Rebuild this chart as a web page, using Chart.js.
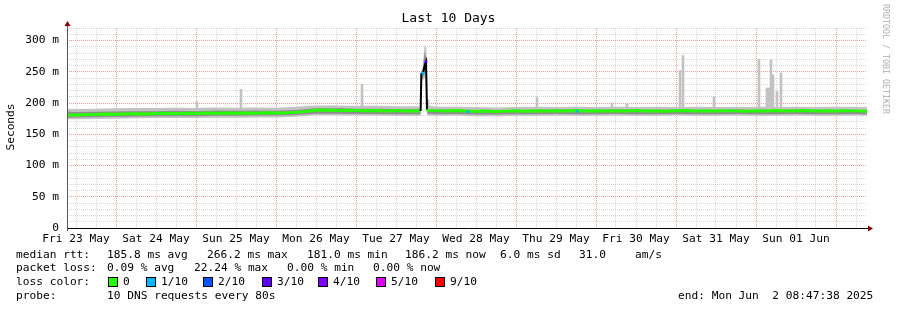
<!DOCTYPE html>
<html>
<head>
<meta charset="utf-8">
<title>Last 10 Days</title>
<script src="https://cdn.jsdelivr.net/npm/chart.js@4.4.0/dist/chart.umd.min.js"></script>
<style>
  html, body { margin: 0; padding: 0; background: #fff; }
  #wrap { position: relative; width: 897px; height: 310px; font-family: "DejaVu Sans Mono", monospace; font-size: 11.2px; color: #000; }
  #wrap canvas { position: absolute; left: 0; top: 0; }
  .t { position: absolute; white-space: pre; line-height: 13px; }
  .box { position: absolute; width: 8px; height: 8px; border: 1px solid #000; }
</style>
</head>
<body>
<div id="wrap">
  <canvas id="smoke" width="897" height="310"></canvas>
  <div class="t" style="left:0;width:897px;top:11px;text-align:center;font-size:13px;">Last 10 Days</div>
  <div class="t" style="left:-14px;top:120px;width:50px;height:14px;line-height:14px;text-align:center;color:#000;transform:rotate(-90deg);">Seconds</div>
  <div class="t" style="left:831px;top:54px;width:110px;height:10px;text-align:center;transform:rotate(90deg);font-size:8.3px;line-height:10px;color:#b0b0b0;">RRDTOOL / TOBI OETIKER</div>

  <div class="t" style="left:16px;top:248px;">median rtt:</div>
  <div class="t" style="left:107px;top:248px;">185.8 ms avg</div>
  <div class="t" style="left:207px;top:248px;">266.2 ms max</div>
  <div class="t" style="left:307px;top:248px;">181.0 ms min</div>
  <div class="t" style="left:405px;top:248px;">186.2 ms now</div>
  <div class="t" style="left:500px;top:248px;">6.0 ms sd</div>
  <div class="t" style="left:579px;top:248px;">31.0</div>
  <div class="t" style="left:635px;top:248px;">am/s</div>

  <div class="t" style="left:16px;top:261px;">packet loss:</div>
  <div class="t" style="left:107px;top:261px;">0.09 % avg</div>
  <div class="t" style="left:194px;top:261px;">22.24 % max</div>
  <div class="t" style="left:287px;top:261px;">0.00 % min</div>
  <div class="t" style="left:373px;top:261px;">0.00 % now</div>

  <div class="t" style="left:16px;top:275px;">loss color:</div>
  <div id="losslegend"></div>

  <div class="t" style="left:16px;top:289px;">probe:</div>
  <div class="t" style="left:107px;top:289px;">10 DNS requests every 80s</div>
  <div class="t" style="left:678px;top:289px;">end: Mon Jun  2 08:47:38 2025</div>
</div>
<script>
// x values are hours counted from Fri 23 May 00:00
const dayLabels = ["Fri 23 May", "Sat 24 May", "Sun 25 May", "Mon 26 May", "Tue 27 May",
  "Wed 28 May", "Thu 29 May", "Fri 30 May", "Sat 31 May", "Sun 01 Jun"];

const medianHours = [9.3, 12, 15, 18, 21, 24, 27, 30, 33, 36, 39, 42, 45, 48, 51, 54, 57, 60, 63, 66,
  69, 72, 75, 78, 81, 84, 87, 90, 93, 96, 99, 102, 105, 108, 111, 114,
  115.4, 115.6, 116.1, 116.7, 117.0, 117.3, 117.6,
  120, 123, 126, 129, 132, 135, 138, 141, 144, 147, 150, 153, 156, 159, 162, 165, 168, 171,
  174, 177, 180, 183, 186, 189, 192, 195, 198, 201, 204, 207, 210, 213, 216, 219, 222, 225,
  228, 231, 234, 237, 240, 243, 246, 249.3];
const medianRtt = [181.0, 181.0, 181.4, 181.8, 182.4, 182.1, 182.6, 182.9, 182.5, 183.1, 183.4, 183.0, 183.6, 183.3, 183.8, 183.5, 184.0, 183.7, 184.1, 183.8,
  184.3, 183.9, 184.2, 185.0, 186.6, 188.3, 188.6, 188.1, 188.5, 188.0, 187.6, 188.1, 187.4, 187.8, 187.2, 187.6,
  187.3, 246.5, 247.5, 262.0, 266.2, 189.5, 188.2,
  187.8, 187.4, 187.9, 187.1, 186.8, 187.3, 186.6, 187.0, 187.4, 186.9, 187.5, 187.1, 187.6, 187.2, 187.8, 187.3, 187.6, 187.1,
  187.7, 187.4, 187.9, 187.3, 187.6, 187.0, 187.5, 187.8, 187.2, 187.6, 187.1, 187.7, 187.4, 187.0, 187.6, 187.3, 187.8, 187.2,
  187.5, 187.9, 187.4, 187.7, 187.2, 187.6, 187.4, 186.8];

const smokeHours = [9.3, 12, 18, 24, 30, 36, 42, 48, 54, 60, 66, 72, 78, 84, 90, 96, 102, 108, 114, 115.4,
  115.6, 116.0, 116.6, 117.1, 117.4,
  120, 126, 132, 138, 144, 150, 156, 162, 168, 174, 180, 186, 192, 198, 204, 210, 216, 222, 228, 234, 240, 246, 249.3];
const smokeOuterHi = [191, 190.5, 191, 191.5, 192, 192, 192.5, 192, 193, 192.5, 193, 192.5, 194, 196, 196, 195.5, 195.5, 195, 195, 194.5,
  252, 258, 293, 288, 196,
  194, 194, 193.5, 193, 193.5, 194, 193.5, 194, 193.5, 194, 193.5, 194, 193.5, 194, 193.5, 193.5, 194, 193.5, 194, 193.5, 194, 193.5, 193.5];
const smokeOuterLo = [174, 174, 174.5, 175, 175.5, 176, 176, 176, 176.5, 176.5, 177, 177, 178, 180.5, 180.5, 180, 180, 179.5, 179.5, 179.5,
  238, 236, 240, 246, 180,
  179.5, 180, 179, 179, 179.5, 179.5, 180, 179.5, 179.5, 180, 179.5, 179.5, 180, 179.5, 179.5, 180, 179.5, 179.5, 180, 179.5, 179.5, 180, 179.5];
const smokeInnerHi = [186, 185.5, 186, 186.5, 187, 187, 187.5, 187, 188, 187.5, 188, 187.5, 189, 191.5, 191.5, 191, 191, 190.5, 190.5, 190,
  249, 252, 282, 272, 191,
  189, 189.5, 188.5, 188.5, 189, 189, 189.5, 189, 189, 189.5, 189, 189, 189.5, 189, 189, 189.5, 189, 189, 189.5, 189, 189, 189, 188.5];
const smokeInnerLo = [177, 177, 177.5, 178, 178.5, 179, 179, 179, 179.5, 179.5, 180, 180, 181, 183, 183, 182.5, 182.5, 182, 182, 182,
  241, 240, 250, 256, 183,
  182, 182.5, 181.5, 181.5, 182, 182, 182.5, 182, 182, 182.5, 182, 182, 182.5, 182, 182, 182.5, 182, 182, 182.5, 182, 182, 182.5, 181.5];

// single pings far above the rest of the smoke
const spikeHours = [48.3, 61.5, 97.8, 117.6, 150.3, 172.8, 177.3, 193.2, 194.1, 203.4,
  216.9, 219.3, 219.9, 220.5, 221.1, 222.3, 223.5];
const spikeTops = [202, 222, 230, 205, 209, 200, 199, 252, 276, 210,
  270, 224, 224, 269, 245, 218, 248];

const lossLabels = ["0", "1/10", "2/10", "3/10", "4/10", "5/10", "9/10"];
const lossColors = ["#26ff00", "#00b8ff", "#0059ff", "#5e00ff", "#7e00ff", "#dd00ff", "#ff0000"];
const lossHours = [116.1, 117.0, 129.6, 162.3];
const lossRtt = [247.5, 266.2, 186.0, 187.0];
const lossLevel = [1, 3, 1, 1];

// loss colour legend
const legendX = [108, 146, 203, 262, 318, 376, 435];
const legend = document.getElementById("losslegend");
lossLabels.forEach(function (lab, i) {
  const b = document.createElement("div");
  b.className = "box";
  b.style.left = legendX[i] + "px";
  b.style.top = "277px";
  b.style.background = lossColors[i];
  legend.appendChild(b);
  const t = document.createElement("div");
  t.className = "t";
  t.style.left = (legendX[i] + 15) + "px";
  t.style.top = "275px";
  t.textContent = lab;
  legend.appendChild(t);
});

function pts(xs, ys) {
  return xs.map(function (x, i) { return { x: x, y: ys[i] }; });
}

const MAJOR = "rgba(222,80,80,0.55)";
const MINOR = "rgba(150,150,150,0.38)";

const axisArrows = {
  id: "axisArrows",
  afterDatasetsDraw(chart) {
    const ctx = chart.ctx, a = chart.chartArea;
    ctx.save();
    ctx.lineWidth = 1;
    ctx.strokeStyle = "#000";
    ctx.beginPath();
    ctx.moveTo(a.left, a.bottom + 0.5);
    ctx.lineTo(a.right + 3, a.bottom + 0.5);
    ctx.stroke();
    ctx.strokeStyle = "#555";
    ctx.beginPath();
    ctx.moveTo(a.left + 0.5, a.bottom + 3);
    ctx.lineTo(a.left + 0.5, a.top - 4);
    ctx.stroke();
    ctx.fillStyle = "#7f0000";
    ctx.beginPath();
    ctx.moveTo(a.left + 0.5, a.top - 7);
    ctx.lineTo(a.left - 2.5, a.top - 2);
    ctx.lineTo(a.left + 3.5, a.top - 2);
    ctx.fill();
    ctx.beginPath();
    ctx.moveTo(a.right + 6, a.bottom + 0.5);
    ctx.lineTo(a.right + 1, a.bottom - 2.5);
    ctx.lineTo(a.right + 1, a.bottom + 3.5);
    ctx.fill();
    ctx.restore();
  }
};

document.addEventListener("DOMContentLoaded", function () {
  const ctx = document.getElementById("smoke").getContext("2d");
  new Chart(ctx, {
    type: "line",
    data: {
      datasets: [
        { data: pts(smokeHours, smokeOuterHi), fill: "+1", backgroundColor: "#c2c2c2", borderWidth: 0, pointRadius: 0, order: 5 },
        { data: pts(smokeHours, smokeOuterLo), fill: false, borderWidth: 0, pointRadius: 0, order: 5 },
        { data: pts(smokeHours, smokeInnerHi), fill: "+1", backgroundColor: "#8e8e8e", borderWidth: 0, pointRadius: 0, order: 4 },
        { data: pts(smokeHours, smokeInnerLo), fill: false, borderWidth: 0, pointRadius: 0, order: 4 },
        {
          type: "bar",
          data: spikeHours.map(function (x, i) { return { x: x, y: [185, spikeTops[i]] }; }),
          backgroundColor: "#c2c2c2",
          barThickness: 2,
          order: 6
        },
        {
          data: pts(medianHours, medianRtt),
          borderColor: lossColors[0],
          borderWidth: 3,
          pointRadius: 0,
          fill: false,
          order: 1,
          segment: {
            borderColor: function (c) { return (c.p0.parsed.y > 200 || c.p1.parsed.y > 200) ? "#000" : undefined; },
            borderWidth: function (c) { return (c.p0.parsed.y > 200 || c.p1.parsed.y > 200) ? 2 : undefined; }
          }
        },
        {
          data: pts(lossHours, lossRtt),
          showLine: false,
          pointStyle: "rect",
          pointRadius: 2,
          pointBorderWidth: 0,
          pointBackgroundColor: lossLevel.map(function (l) { return lossColors[l]; }),
          order: 0
        }
      ]
    },
    options: {
      responsive: false,
      devicePixelRatio: 1,
      animation: false,
      layout: { padding: { left: 0, top: 28, right: 30, bottom: 62 } },
      plugins: { legend: { display: false }, tooltip: { enabled: false }, title: { display: false } },
      scales: {
        x: {
          type: "linear",
          min: 9.3,
          max: 249.3,
          offset: false,
          afterBuildTicks: function (scale) {
            const t = [];
            for (let h = 12; h <= 246; h += 6) t.push({ value: h });
            scale.ticks = t;
          },
          afterFit: function (scale) { scale.height = 20; },
          grid: {
            offset: false,
            drawTicks: false,
            color: function (c) { return c.tick && c.tick.value % 24 === 0 ? MAJOR : MINOR; }
          },
          border: { display: false, dash: [1, 1] },
          ticks: {
            autoSkip: false,
            maxRotation: 0,
            padding: 4,
            color: "#000",
            font: { family: "DejaVu Sans Mono", size: 11.2 },
            callback: function (v) { return v % 24 === 12 ? dayLabels[(v - 12) / 24] : ""; }
          }
        },
        y: {
          min: 0,
          max: 320,
          afterFit: function (scale) { scale.width = 67; },
          grid: {
            drawTicks: false,
            color: function (c) { return c.tick && c.tick.value % 50 === 0 ? MAJOR : MINOR; }
          },
          border: { display: false, dash: [1, 1] },
          ticks: {
            stepSize: 10,
            autoSkip: false,
            padding: 8,
            color: "#000",
            font: { family: "DejaVu Sans Mono", size: 11.2 },
            callback: function (v) {
              if (v % 50 !== 0) return "";
              return v === 0 ? "0" : v + " m";
            }
          }
        }
      }
    },
    plugins: [axisArrows]
  });
});
</script>
</body>
</html>
